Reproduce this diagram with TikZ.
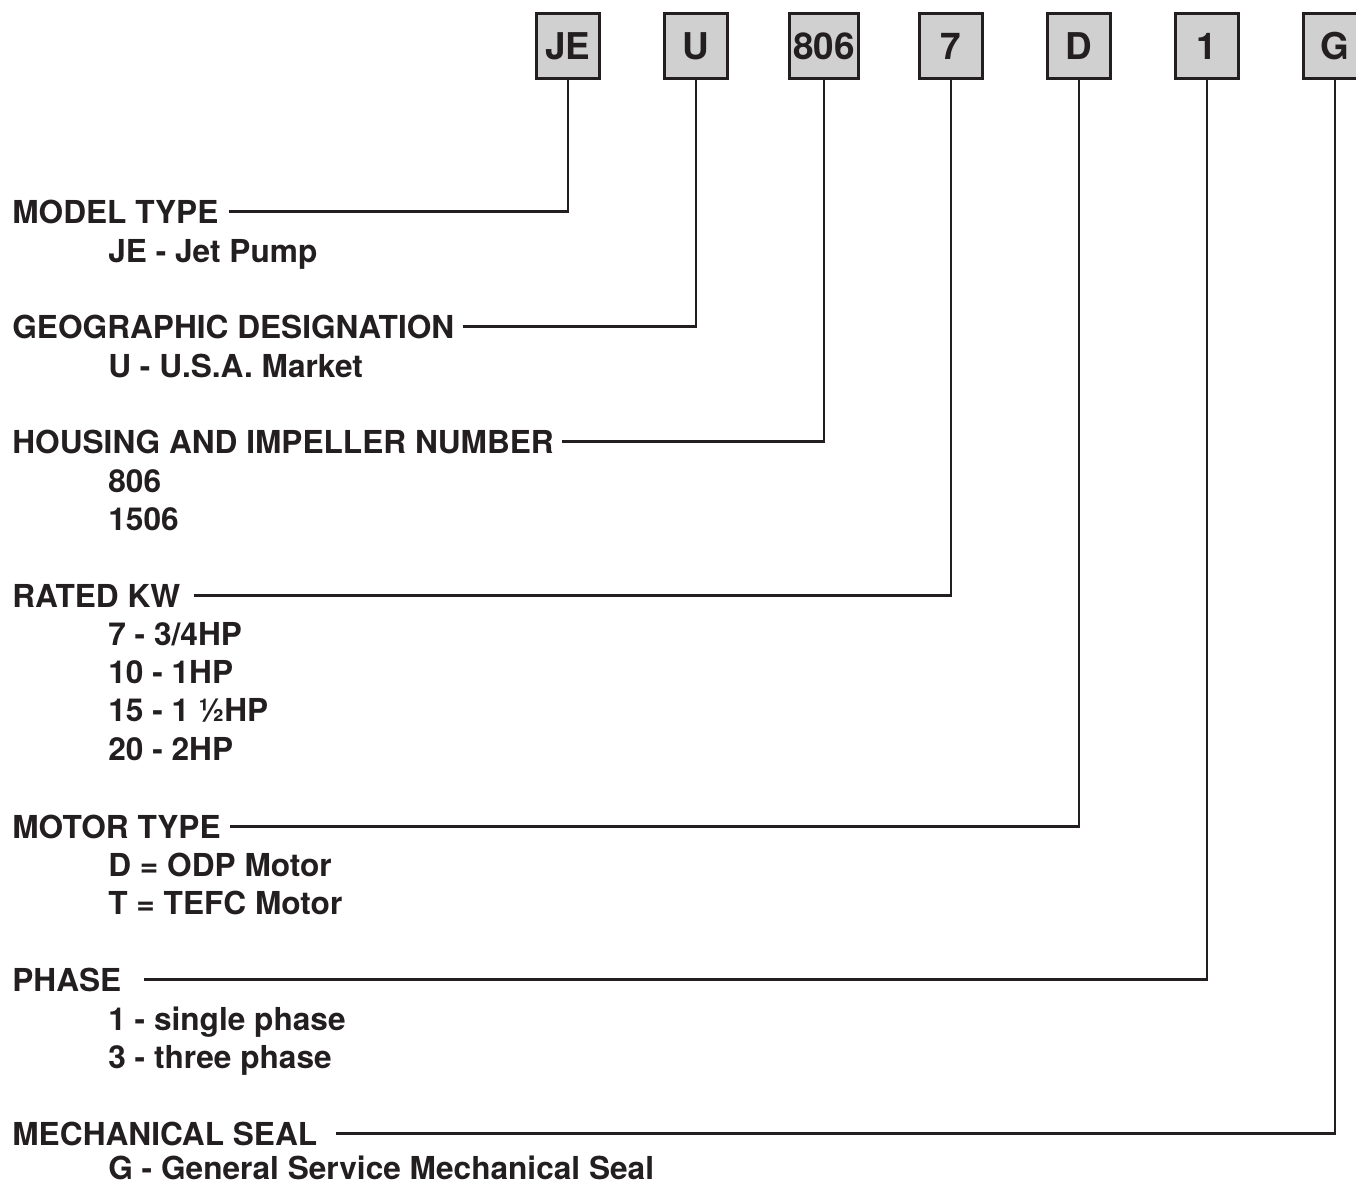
\documentclass[tikz,border=0pt]{standalone}
\usepackage{fontspec}
\setmainfont{TeX Gyre Heros}
\definecolor{boxgray}{HTML}{D0D0D0}
\definecolor{ink}{HTML}{231F20}

\begin{document}
\begin{tikzpicture}[x=0.02cm,y=-0.02cm,
  codebox/.style={draw=ink,line width=1.6pt,fill=boxgray,minimum width=1.27cm,minimum height=1.3cm,inner xsep=0.07cm,inner ysep=0pt,text=ink,font=\fontsize{21}{21}\selectfont\bfseries},
  head/.style={anchor=base west,inner sep=0pt,text=ink,font=\fontsize{18}{22}\selectfont\bfseries},
  item/.style={head},
  lead/.style={draw=ink,line width=1.3pt}]
  \useasboundingbox(0,0)rectangle(1356,1184);
  % code boxes
  \foreach \n/\t/\x in {je/JE/568,u/U/696,hn/806/824,kw/7/951,mt/D/1079,ph/1/1207,ms/G/1335}
  {
    \node[codebox](\n)at(\x,46){\t};
  }
  % headings and leaders
  \foreach \n/\y/\g/\t in {je/223/10/{MODEL TYPE},u/338/8/{GEOGRAPHIC DESIGNATION},hn/453/8/{HOUSING AND IMPELLER NUMBER},kw/607/13/{RATED KW},mt/838/9/{MOTOR TYPE},ph/991/22/{PHASE},ms/1145/18/{MECHANICAL SEAL}}
  {
    \node[head](\n-h)at(12,\y){\t};
    \draw[lead]([xshift={\g*0.02cm}]\n-h.east)-|(\n.south);
  }
  % choices
  \foreach \y/\t in {262/{JE - Jet Pump},377/{U - U.S.A. Market},492/{806},530/{1506},645/{7 - 3/4HP},683/{10 - 1HP},721/{15 - 1 ½HP},760/{20 - 2HP},876/{D = ODP Motor},914/{T = TEFC Motor},1030/{1 - single phase},1068/{3 - three phase},1179/{G - General Service Mechanical Seal}}
  {
    \node[item](i\y)at(108,\y){\t};
  }
\end{tikzpicture}
\end{document}
